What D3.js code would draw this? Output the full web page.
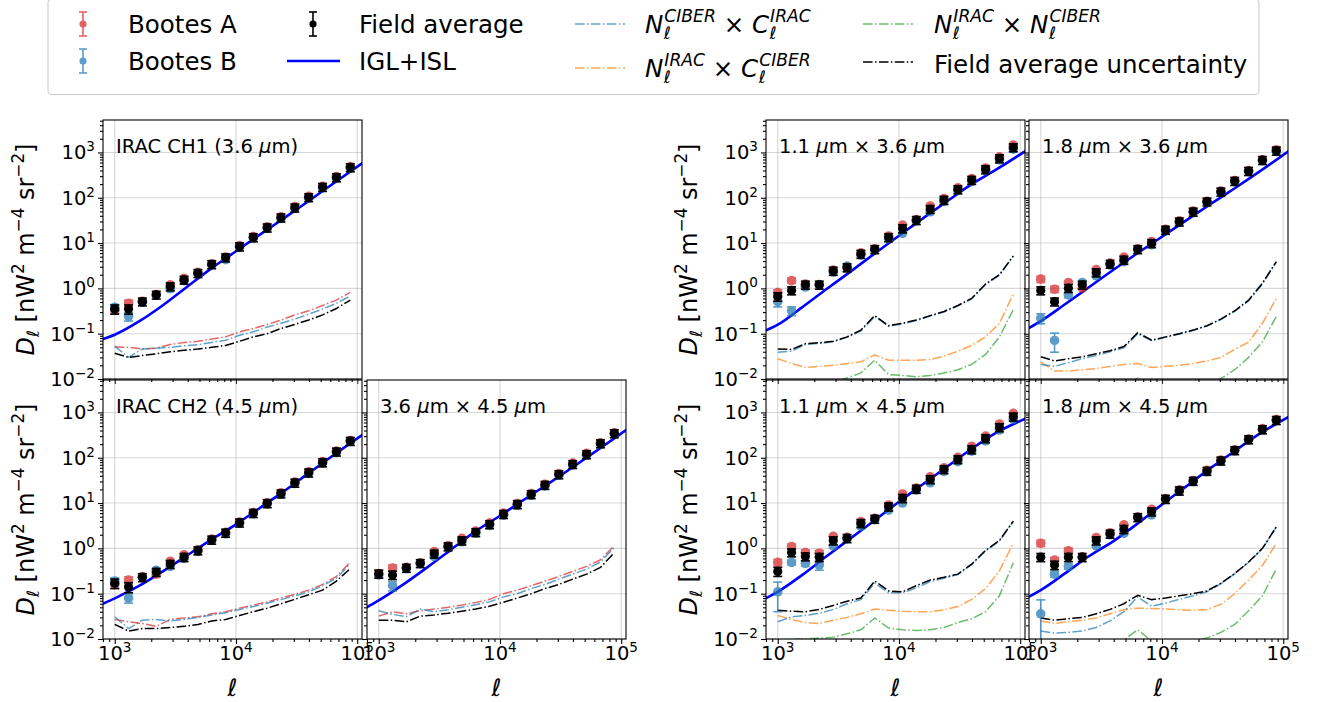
<!DOCTYPE html>
<html>
<head>
<meta charset="utf-8">
<script src="https://cdnjs.cloudflare.com/ajax/libs/d3/7.8.5/d3.min.js"></script>
<style>
    body { margin: 0; background: #ffffff; }
    svg { font-family: "DejaVu Sans", sans-serif; }
</style>
</head>
<body>
<div class="board"></div>
<script>
    // multipole bins (same for every panel)
    const ell = [1000, 1300, 1690, 2200, 2870, 3730, 4850, 6310, 8210, 10700, 13900, 18100, 23500, 30600, 39800, 51800, 67400, 87700]
    // grid on which the IGL+ISL model curves are read
    const modelEll = [794, 1000, 1585, 2512, 3981, 6310, 10000, 15850, 25120, 39810, 63100, 112200]

    // IRAC CH1 (3.6 um)
    const ch1A = [0.33, 0.47, 0.52, 0.73, 1.20, 1.67, 2.25, 3.5, 4.9, 8.8, 14.0, 23, 38, 64, 108, 180, 295, 490]
    const ch1B = [0.38, 0.24, 0.50, 0.71, 0.98, 1.48, 2.08, 3.3, 4.3, 8.0, 12.8, 21, 35, 58, 98, 165, 270, 450]
    const ch1Avg = [0.35, 0.35, 0.51, 0.72, 1.10, 1.54, 2.16, 3.4, 4.8, 8.4, 13.4, 21.9, 36.4, 60.4, 102, 172, 281, 468]
    const ch1ErrA = [[0, 0.05], [1, 0.08]]
    const ch1ErrB = [[0, 0.06], [1, 0.05]]
    const ch1ErrAvg = [0.08, 0.08, 0.1, 0.14, 0.22, 0.3, 0.43, 0.68, 0.96, 1.7, 2.7, 4.4, 7.3, 12, 20, 34, 56, 94]
    const ch1Model = [0.076, 0.095, 0.186, 0.43, 1.10, 2.8, 6.6, 15.5, 36, 85, 204, 600]
    const ch1NA = [0.051, 0.050, 0.046, 0.048, 0.058, 0.064, 0.068, 0.076, 0.085, 0.11, 0.13, 0.16, 0.20, 0.26, 0.32, 0.42, 0.55, 0.82]
    const ch1NB = [0.053, 0.030, 0.046, 0.048, 0.050, 0.054, 0.057, 0.064, 0.072, 0.092, 0.11, 0.14, 0.17, 0.21, 0.27, 0.35, 0.47, 0.68]
    const ch1NAvg = [0.037, 0.030, 0.033, 0.036, 0.040, 0.043, 0.046, 0.050, 0.055, 0.068, 0.085, 0.10, 0.13, 0.16, 0.20, 0.26, 0.36, 0.55]

    // IRAC CH2 (4.5 um)
    const ch2A = [0.16, 0.20, 0.24, 0.27, 0.52, 0.72, 0.93, 1.6, 2.25, 3.8, 6.2, 10.2, 16.8, 29, 49, 82, 140, 240]
    const ch2B = [0.19, 0.08, 0.23, 0.33, 0.40, 0.60, 0.86, 1.5, 2.1, 3.6, 5.8, 9.6, 15.6, 27, 45, 76, 131, 228]
    const ch2Avg = [0.17, 0.14, 0.23, 0.30, 0.45, 0.64, 0.90, 1.55, 2.2, 3.7, 6.0, 9.9, 16.2, 28, 47, 79, 136, 234]
    const ch2ErrA = [[0, 0.03], [1, 0.035]]
    const ch2ErrB = [[0, 0.035], [1, 0.018]]
    const ch2ErrAvg = [0.04, 0.035, 0.046, 0.06, 0.09, 0.13, 0.18, 0.31, 0.44, 0.74, 1.2, 2.0, 3.2, 5.6, 9.4, 16, 27, 47]
    const ch2Model = [0.060, 0.079, 0.148, 0.316, 0.71, 1.58, 3.39, 7.9, 18.6, 45.7, 112, 331]
    const ch2NA = [0.027, 0.024, 0.022, 0.019, 0.027, 0.029, 0.031, 0.036, 0.040, 0.048, 0.056, 0.066, 0.080, 0.097, 0.12, 0.16, 0.24, 0.50]
    const ch2NB = [0.031, 0.017, 0.026, 0.027, 0.025, 0.027, 0.030, 0.034, 0.038, 0.045, 0.052, 0.062, 0.074, 0.090, 0.11, 0.15, 0.22, 0.46]
    const ch2NAvg = [0.021, 0.015, 0.017, 0.017, 0.018, 0.019, 0.021, 0.025, 0.027, 0.033, 0.040, 0.048, 0.060, 0.075, 0.095, 0.12, 0.19, 0.36]

    // 3.6 um x 4.5 um
    const x12A = [0.28, 0.37, 0.38, 0.48, 0.85, 1.15, 1.67, 2.4, 3.6, 6.0, 9.8, 16.3, 26, 45, 76, 125, 215, 355]
    const x12B = [0.26, 0.15, 0.36, 0.46, 0.66, 1.05, 1.40, 2.15, 3.2, 5.4, 9.0, 15, 24, 41, 69, 114, 198, 335]
    const x12Avg = [0.275, 0.26, 0.37, 0.47, 0.76, 1.1, 1.49, 2.27, 3.4, 5.7, 9.4, 15.6, 25, 43, 72, 119, 207, 345]
    const x12ErrA = [[0, 0.05], [1, 0.06]]
    const x12ErrB = [[1, 0.035]]
    const x12ErrAvg = [0.055, 0.055, 0.074, 0.094, 0.15, 0.22, 0.3, 0.45, 0.68, 1.14, 1.9, 3.1, 5, 8.6, 14, 24, 41, 69]
    const x12Model = [0.050, 0.071, 0.158, 0.38, 0.95, 2.4, 5.25, 12.0, 26.9, 61.7, 145, 427]
    const x12NA = [0.032, 0.040, 0.036, 0.042, 0.046, 0.050, 0.056, 0.064, 0.075, 0.10, 0.12, 0.15, 0.19, 0.24, 0.31, 0.40, 0.56, 1.15]
    const x12NB = [0.042, 0.035, 0.031, 0.046, 0.040, 0.044, 0.050, 0.057, 0.066, 0.085, 0.10, 0.13, 0.16, 0.21, 0.27, 0.35, 0.50, 1.05]
    const x12NAvg = [0.026, 0.026, 0.024, 0.032, 0.034, 0.037, 0.041, 0.046, 0.053, 0.065, 0.080, 0.10, 0.13, 0.16, 0.21, 0.27, 0.38, 0.80]

    // 1.1 um x 3.6 um
    const c1i1A = [0.81, 1.49, 1.25, 1.22, 2.55, 2.8, 6.1, 7.5, 14.2, 25, 33, 66, 96, 165, 265, 455, 800, 1450]
    const c1i1B = [0.51, 0.32, 1.07, 1.18, 2.3, 3.1, 5.4, 7.1, 12.6, 16.4, 31, 49, 83, 143, 228, 395, 690, 1180]
    const c1i1Avg = [0.66, 0.90, 1.2, 1.2, 2.43, 2.9, 5.75, 7.3, 13.4, 21, 32, 56, 89, 153, 246, 423, 738, 1290]
    const c1i1ErrA = [[0, 0.12], [1, 0.2]]
    const c1i1ErrB = [[0, 0.12], [1, 0.07]]
    const c1i1ErrAvg = [0.14, 0.18, 0.24, 0.24, 0.49, 0.58, 1.15, 1.46, 2.7, 4.2, 6.4, 11, 18, 31, 49, 85, 148, 258]
    const c1i1Model = [0.117, 0.158, 0.38, 0.955, 2.34, 5.9, 14.5, 35.5, 85, 200, 417, 1100]
    const c1i1NB = [0.039, 0.041, 0.058, 0.061, 0.066, 0.083, 0.115, 0.24, 0.145, 0.165, 0.195, 0.245, 0.30, 0.41, 0.59, 1.22, 1.95, 5.1]
    const c1i1NO = [0.028, 0.022, 0.018, 0.019, 0.020, 0.022, 0.024, 0.034, 0.026, 0.026, 0.026, 0.027, 0.032, 0.041, 0.055, 0.085, 0.17, 0.75]
    const c1i1NG = [0.004, 0.005, 0.006, 0.007, 0.0085, 0.0105, 0.0136, 0.026, 0.0125, 0.012, 0.0112, 0.012, 0.0136, 0.016, 0.021, 0.035, 0.085, 0.34]
    const c1i1NAvg = [0.046, 0.045, 0.060, 0.063, 0.068, 0.085, 0.12, 0.25, 0.15, 0.17, 0.20, 0.25, 0.31, 0.42, 0.60, 1.25, 2.0, 5.2]

    // 1.8 um x 3.6 um
    const c2i1A = [1.6, 0.96, 1.35, 1.01, 2.6, 3.6, 4.9, 7.5, 10.8, 20.2, 31, 51, 84, 140, 240, 398, 690, 1150]
    const c2i1B = [0.22, 0.071, 0.72, 1.35, 1.9, 3.3, 3.9, 7.1, 9.2, 18.8, 28.5, 47, 79, 132, 228, 378, 660, 1050]
    const c2i1Avg = [0.90, 0.51, 1.01, 1.2, 2.24, 3.47, 4.25, 7.3, 9.9, 19.5, 29.7, 49, 82, 136, 234, 388, 676, 1090]
    const c2i1ErrA = [[0, 0.25], [1, 0.15]]
    const c2i1ErrB = [[0, 0.055], [1, 0.032], [2, 0.1]]
    const c2i1ErrAvg = [0.18, 0.1, 0.2, 0.24, 0.45, 0.69, 0.85, 1.46, 2.0, 3.9, 5.9, 9.8, 16, 27, 47, 78, 135, 218]
    const c2i1Model = [0.132, 0.19, 0.447, 1.07, 2.57, 6.03, 13.8, 31.6, 72.4, 162, 372, 1096]
    const c2i1NB = [0.021, 0.019, 0.023, 0.028, 0.033, 0.040, 0.049, 0.10, 0.07, 0.083, 0.098, 0.118, 0.148, 0.205, 0.31, 0.53, 1.25, 3.8]
    const c2i1NO = [0.024, 0.015, 0.015, 0.016, 0.017, 0.019, 0.021, 0.022, 0.018, 0.019, 0.020, 0.022, 0.025, 0.030, 0.045, 0.065, 0.17, 0.60]
    const c2i1NG = [0.002, 0.002, 0.002, 0.003, 0.004, 0.005, 0.007, 0.0105, 0.006, 0.005, 0.0045, 0.005, 0.007, 0.0102, 0.016, 0.03, 0.066, 0.24]
    const c2i1NAvg = [0.031, 0.025, 0.028, 0.031, 0.036, 0.042, 0.052, 0.105, 0.072, 0.085, 0.10, 0.12, 0.15, 0.21, 0.32, 0.55, 1.3, 3.9]

    // 1.1 um x 4.5 um
    const c1i2A = [0.49, 1.1, 0.81, 0.78, 1.85, 1.75, 3.9, 4.6, 9.0, 15.9, 21.5, 38, 60, 102, 180, 300, 557, 952]
    const c1i2B = [0.11, 0.49, 0.47, 0.43, 1.13, 1.62, 3.1, 4.3, 7.0, 10, 19.5, 28, 50, 82, 140, 235, 410, 700]
    const c1i2Avg = [0.31, 0.81, 0.66, 0.64, 1.49, 1.68, 3.59, 4.47, 8.35, 12.8, 20.5, 33.4, 55.6, 92, 153, 267, 468, 804]
    const c1i2ErrA = [[0, 0.08], [1, 0.15], [2, 0.12], [3, 0.12]]
    const c1i2ErrB = [[0, 0.07], [1, 0.06], [2, 0.07], [3, 0.1]]
    const c1i2ErrAvg = [0.07, 0.16, 0.13, 0.13, 0.3, 0.34, 0.72, 0.89, 1.7, 2.6, 4.1, 6.7, 11, 18, 31, 53, 94, 160]
    const c1i2Model = [0.079, 0.11, 0.257, 0.66, 1.66, 4.17, 10.7, 26.3, 64.6, 158, 355, 741]
    const c1i2NB = [0.024, 0.031, 0.033, 0.037, 0.045, 0.060, 0.074, 0.17, 0.105, 0.105, 0.135, 0.185, 0.22, 0.265, 0.44, 0.88, 1.45, 3.9]
    const c1i2NO = [0.033, 0.027, 0.023, 0.022, 0.026, 0.030, 0.036, 0.046, 0.043, 0.041, 0.040, 0.040, 0.044, 0.052, 0.075, 0.13, 0.32, 1.3]
    const c1i2NG = [0.0095, 0.0098, 0.010, 0.0105, 0.011, 0.013, 0.016, 0.029, 0.0175, 0.016, 0.0155, 0.016, 0.018, 0.023, 0.028, 0.040, 0.09, 0.48]
    const c1i2NAvg = [0.043, 0.041, 0.040, 0.045, 0.055, 0.068, 0.08, 0.19, 0.115, 0.11, 0.15, 0.20, 0.23, 0.27, 0.45, 0.90, 1.5, 4.0]

    // 1.8 um x 4.5 um
    const c2i2A = [1.3, 0.55, 0.88, 0.65, 1.74, 2.2, 3.3, 4.9, 7.3, 12.6, 19.5, 31.5, 53, 89, 150, 260, 440, 700]
    const c2i2B = [0.036, 0.27, 0.40, 0.63, 1.13, 2.0, 2.15, 4.8, 5.5, 12.0, 18.2, 30, 49, 84, 142, 248, 410, 660]
    const c2i2Avg = [0.64, 0.43, 0.64, 0.64, 1.49, 2.1, 2.65, 4.86, 6.5, 12.3, 18.8, 30.7, 51, 86, 146, 254, 423, 676]
    const c2i2ErrA = [[0, 0.2], [1, 0.08], [2, 0.14]]
    const c2i2ErrB = [[0, 0.037], [1, 0.04], [2, 0.05]]
    const c2i2ErrAvg = [0.13, 0.09, 0.13, 0.13, 0.3, 0.42, 0.53, 0.97, 1.3, 2.5, 3.8, 6.1, 10, 17, 29, 51, 85, 135]
    const c2i2Model = [0.085, 0.12, 0.28, 0.68, 1.45, 3.55, 9.3, 23.4, 58.9, 141, 331, 813]
    const c2i2NB = [0.015, 0.0135, 0.014, 0.015, 0.018, 0.025, 0.040, 0.085, 0.053, 0.062, 0.075, 0.09, 0.11, 0.165, 0.275, 0.49, 0.98, 2.95]
    const c2i2NO = [0.025, 0.022, 0.024, 0.026, 0.029, 0.036, 0.044, 0.048, 0.047, 0.046, 0.044, 0.043, 0.045, 0.058, 0.10, 0.20, 0.42, 1.3]
    const c2i2NG = [0.002, 0.002, 0.003, 0.004, 0.005, 0.007, 0.0095, 0.016, 0.009, 0.0085, 0.0085, 0.009, 0.0105, 0.014, 0.021, 0.042, 0.09, 0.35]
    const c2i2NAvg = [0.029, 0.026, 0.028, 0.030, 0.036, 0.045, 0.060, 0.092, 0.074, 0.08, 0.09, 0.10, 0.115, 0.17, 0.28, 0.50, 1.0, 3.0]

    // tick labels
    const xMajor = [1e3, 1e4, 1e5]
    const xExp = ["3", "4", "5"]
    const yMajor = [1e-2, 1e-1, 1e0, 1e1, 1e2, 1e3]
    const yExp = ["−2", "−1", "0", "1", "2", "3"]

    RED = "#d62728"
    BLUE = "#1f77b4"
    ORANGE = "#ff7f0e"
    GREEN = "#2ca02c"
    MODEL = "#0000ff"
    DASHDOT = "9.6,2.4,1.5,2.4"

    PW = 259
    PH = 259
    LEGEND_FONT = 24.5

    var svg = d3.select(".board")
        .append("svg")
        .attr("width", 1318)
        .attr("height", 702)

    let x = d3.scaleLog().domain([800, 109500]).range([0, PW])
    let y = d3.scaleLog().domain([0.01, 5200]).range([PH, 0])

    let xMinor = x.ticks().filter(d => !xMajor.includes(d))
    let yMinor = y.ticks().filter(d => !yMajor.some(m => Math.abs(m - d) / m < 1e-9))

    function addSpans(text, parts) {
        parts.forEach(p => {
            let ts = text.append("tspan").text(p.t)
            if (p.it) ts.attr("font-style", "italic")
            if (p.s) ts.attr("font-size", p.s)
            if (p.dy) ts.attr("dy", p.dy)
        })
    }

    // text with stacked super/subscripts, measured piece by piece
    function mathLabel(g, x0, y0, items, size) {
        let cx = x0
        items.forEach(it => {
            let t = g.append("text").attr("x", cx).attr("y", y0).attr("font-size", size)
                .style("white-space", "pre").text(it.t)
            if (it.it) t.attr("font-style", "italic")
            let w = t.node().getComputedTextLength()
            let extra = 0
            if (it.sup) {
                let s = g.append("text").attr("x", cx + w + 1).attr("y", y0 - size * 0.43)
                    .attr("font-size", size * 0.7).attr("font-style", "italic").text(it.sup)
                extra = Math.max(extra, s.node().getComputedTextLength() + 1)
            }
            if (it.sub) {
                let s = g.append("text").attr("x", cx + w + 0.5).attr("y", y0 + size * 0.25)
                    .attr("font-size", size * 0.7).attr("font-style", "italic").text(it.sub)
                extra = Math.max(extra, s.node().getComputedTextLength() + 0.5)
            }
            cx += w + extra
        })
    }

    function styleAxis(a) {
        a.select(".domain").remove()
        a.selectAll(".tick line").attr("stroke", "black").attr("stroke-width", 1.1)
    }

    function drawPanel(p) {
        let g = svg.append("g").attr("transform", "translate(" + p.x0 + "," + p.y0 + ")")

        g.append("clipPath").attr("id", "clip-" + p.id)
            .append("rect").attr("width", PW).attr("height", PH)

        // grid
        let grid = g.append("g")
        grid.selectAll(".gx").data(xMajor).enter().append("line")
            .attr("x1", d => x(d)).attr("x2", d => x(d)).attr("y1", 0).attr("y2", PH)
        grid.selectAll(".gy").data(yMajor).enter().append("line")
            .attr("y1", d => y(d)).attr("y2", d => y(d)).attr("x1", 0).attr("x2", PW)
        grid.selectAll("line").attr("stroke", "#b0b0b0").attr("stroke-opacity", 0.5).attr("stroke-width", 1.1)

        let body = g.append("g").attr("clip-path", "url(#clip-" + p.id + ")")

        // noise / uncertainty curves
        let line = d3.line().x((d, i) => x(ell[i])).y(d => y(d))
        p.noise.forEach(n => {
            body.append("path")
                .attr("d", line(n[0]))
                .attr("fill", "none")
                .attr("stroke", n[1])
                .attr("stroke-opacity", n[1] == "black" ? 1 : 0.7)
                .attr("stroke-width", 1.5)
                .attr("stroke-dasharray", DASHDOT)
        })

        // IGL+ISL model
        let modelLine = d3.line().x((d, i) => x(modelEll[i])).y(d => y(d)).curve(d3.curveMonotoneX)
        body.append("path")
            .attr("d", modelLine(p.model))
            .attr("fill", "none")
            .attr("stroke", MODEL)
            .attr("stroke-width", 2.6)

        // data points with error bars; errs is a list of [index, error]
        function pointSet(vals, errs, color, opacity, r) {
            let s = body.append("g").attr("fill", color).attr("stroke", color).attr("opacity", opacity)
            errs.forEach(e => {
                let v = vals[e[0]]
                let cx = x(ell[e[0]])
                let lo = y(Math.max(v - e[1], 1e-4)), hi = y(v + e[1])
                s.append("line").attr("x1", cx).attr("x2", cx).attr("y1", lo).attr("y2", hi).attr("stroke-width", 1.6)
                s.append("line").attr("x1", cx - 4.5).attr("x2", cx + 4.5).attr("y1", lo).attr("y2", lo).attr("stroke-width", 1.6)
                s.append("line").attr("x1", cx - 4.5).attr("x2", cx + 4.5).attr("y1", hi).attr("y2", hi).attr("stroke-width", 1.6)
            })
            s.selectAll("circle").data(vals).enter().append("circle")
                .attr("cx", (d, i) => x(ell[i]))
                .attr("cy", d => y(d))
                .attr("r", r)
                .attr("stroke", "none")
        }
        pointSet(p.A, p.eA, RED, 0.72, 4.8)
        pointSet(p.B, p.eB, BLUE, 0.72, 4.8)
        pointSet(p.avg, p.eAvg.map((e, i) => [i, e]), "black", 1, 4.6)

        // frame
        g.append("rect").attr("width", PW).attr("height", PH)
            .attr("fill", "none").attr("stroke", "black").attr("stroke-width", 1.1)

        // axes
        g.append("g").attr("transform", "translate(0," + PH + ")")
            .call(d3.axisBottom(x).tickValues(xMinor).tickSize(3).tickFormat("")).call(styleAxis)
        g.append("g").attr("transform", "translate(0," + PH + ")")
            .call(d3.axisBottom(x).tickValues(xMajor).tickSize(5).tickFormat("")).call(styleAxis)
        g.append("g")
            .call(d3.axisLeft(y).tickValues(yMinor).tickSize(3).tickFormat("")).call(styleAxis)
        g.append("g")
            .call(d3.axisLeft(y).tickValues(yMajor).tickSize(5).tickFormat("")).call(styleAxis)

        if (p.yTicks) {
            yMajor.forEach((v, i) => {
                let t = g.append("text").attr("x", -8).attr("y", y(v) + 7)
                    .attr("text-anchor", "end").attr("font-size", 19.5)
                addSpans(t, [{ t: "10" }, { t: yExp[i], s: 13.6, dy: -8 }])
            })
            let yl = svg.append("text")
                .attr("transform", "translate(" + (p.x0 - 69) + "," + (p.y0 + PH / 2) + ") rotate(-90)")
                .attr("text-anchor", "middle").attr("font-size", 24)
            addSpans(yl, [
                { t: "D", it: 1 }, { t: "ℓ", it: 1, s: 16.8, dy: 5 },
                { t: " [nW", dy: -5 }, { t: "2", s: 16.8, dy: -10 },
                { t: " m", dy: 10 }, { t: "−4", s: 16.8, dy: -10 },
                { t: " sr", dy: 10 }, { t: "−2", s: 16.8, dy: -10 },
                { t: "]", dy: 10 }])
        }
        if (p.xTicks) {
            xMajor.forEach((v, i) => {
                let t = g.append("text").attr("x", x(v)).attr("y", PH + 21)
                    .attr("text-anchor", "middle").attr("font-size", 19.5)
                addSpans(t, [{ t: "10" }, { t: xExp[i], s: 13.6, dy: -8 }])
            })
            svg.append("text").attr("x", p.x0 + PW / 2).attr("y", 696)
                .attr("text-anchor", "middle").attr("font-size", 24).attr("font-style", "italic").text("ℓ")
        }

        // panel title
        let title = g.append("text").attr("x", 13).attr("y", 33).attr("font-size", 19.5).style("white-space", "pre")
        addSpans(title, p.title)
    }

    const irac = (a, b) => [{ t: a }, { t: "μ", it: 1 }, { t: b }]
    const cross = (a, b) => [{ t: a + " " }, { t: "μ", it: 1 }, { t: "m × " + b + " " }, { t: "μ", it: 1 }, { t: "m" }]

    const panels = [
        { id: "ch1", x0: 103, y0: 120, yTicks: true, xTicks: false, title: irac("IRAC CH1 (3.6 ", "m)"),
          A: ch1A, B: ch1B, avg: ch1Avg, eA: ch1ErrA, eB: ch1ErrB, eAvg: ch1ErrAvg, model: ch1Model,
          noise: [[ch1NA, RED], [ch1NB, BLUE], [ch1NAvg, "black"]] },
        { id: "ch2", x0: 103, y0: 380, yTicks: true, xTicks: true, title: irac("IRAC CH2 (4.5 ", "m)"),
          A: ch2A, B: ch2B, avg: ch2Avg, eA: ch2ErrA, eB: ch2ErrB, eAvg: ch2ErrAvg, model: ch2Model,
          noise: [[ch2NA, RED], [ch2NB, BLUE], [ch2NAvg, "black"]] },
        { id: "x12", x0: 367, y0: 380, yTicks: false, xTicks: true, title: cross("3.6", "4.5"),
          A: x12A, B: x12B, avg: x12Avg, eA: x12ErrA, eB: x12ErrB, eAvg: x12ErrAvg, model: x12Model,
          noise: [[x12NA, RED], [x12NB, BLUE], [x12NAvg, "black"]] },
        { id: "c1i1", x0: 766, y0: 120, yTicks: true, xTicks: false, title: cross("1.1", "3.6"),
          A: c1i1A, B: c1i1B, avg: c1i1Avg, eA: c1i1ErrA, eB: c1i1ErrB, eAvg: c1i1ErrAvg, model: c1i1Model,
          noise: [[c1i1NG, GREEN], [c1i1NO, ORANGE], [c1i1NB, BLUE], [c1i1NAvg, "black"]] },
        { id: "c2i1", x0: 1029, y0: 120, yTicks: false, xTicks: false, title: cross("1.8", "3.6"),
          A: c2i1A, B: c2i1B, avg: c2i1Avg, eA: c2i1ErrA, eB: c2i1ErrB, eAvg: c2i1ErrAvg, model: c2i1Model,
          noise: [[c2i1NG, GREEN], [c2i1NO, ORANGE], [c2i1NB, BLUE], [c2i1NAvg, "black"]] },
        { id: "c1i2", x0: 766, y0: 380, yTicks: true, xTicks: true, title: cross("1.1", "4.5"),
          A: c1i2A, B: c1i2B, avg: c1i2Avg, eA: c1i2ErrA, eB: c1i2ErrB, eAvg: c1i2ErrAvg, model: c1i2Model,
          noise: [[c1i2NG, GREEN], [c1i2NO, ORANGE], [c1i2NB, BLUE], [c1i2NAvg, "black"]] },
        { id: "c2i2", x0: 1029, y0: 380, yTicks: false, xTicks: true, title: cross("1.8", "4.5"),
          A: c2i2A, B: c2i2B, avg: c2i2Avg, eA: c2i2ErrA, eB: c2i2ErrB, eAvg: c2i2ErrAvg, model: c2i2Model,
          noise: [[c2i2NG, GREEN], [c2i2NO, ORANGE], [c2i2NB, BLUE], [c2i2NAvg, "black"]] }
    ]

    panels.forEach(drawPanel)

    // ---- legend ----
    let leg = svg.append("g")
    leg.append("rect").attr("x", 48).attr("y", -1).attr("width", 1211).attr("height", 95.5).attr("rx", 4)
        .attr("fill", "white").attr("fill-opacity", 0.8).attr("stroke", "#cccccc").attr("stroke-width", 1.1)

    function legErr(cx, cy, color, opacity) {
        let s = leg.append("g").attr("stroke", color).attr("fill", color).attr("opacity", opacity)
        s.append("line").attr("x1", cx).attr("x2", cx).attr("y1", cy - 12).attr("y2", cy + 12).attr("stroke-width", 1.6)
        s.append("line").attr("x1", cx - 4).attr("x2", cx + 4).attr("y1", cy - 12).attr("y2", cy - 12).attr("stroke-width", 1.6)
        s.append("line").attr("x1", cx - 4).attr("x2", cx + 4).attr("y1", cy + 12).attr("y2", cy + 12).attr("stroke-width", 1.6)
        s.append("circle").attr("cx", cx).attr("cy", cy).attr("r", 3.6).attr("stroke", "none")
    }
    function legLine(x1, x2, ly, color, opacity, dash, w) {
        leg.append("line").attr("x1", x1).attr("x2", x2).attr("y1", ly).attr("y2", ly)
            .attr("stroke", color).attr("stroke-opacity", opacity).attr("stroke-width", w)
            .attr("stroke-dasharray", dash)
    }
    function legText(tx, ty, s) {
        leg.append("text").attr("x", tx).attr("y", ty).attr("font-size", LEGEND_FONT).text(s)
    }

    legErr(83, 24, RED, 0.72)
    legText(128, 33, "Bootes A")
    legErr(83, 61, BLUE, 0.72)
    legText(128, 70, "Bootes B")

    legErr(313, 24, "black", 1)
    legText(359, 33, "Field average")
    legLine(287, 340, 61, MODEL, 1, null, 2.6)
    legText(359, 70, "IGL+ISL")

    legLine(575, 625, 24, BLUE, 0.7, DASHDOT, 1.5)
    mathLabel(leg, 645, 33, [{ t: "N", it: 1, sup: "CIBER", sub: "ℓ" }, { t: " × " }, { t: "C", it: 1, sup: "IRAC", sub: "ℓ" }], LEGEND_FONT)
    legLine(575, 625, 68, ORANGE, 0.7, DASHDOT, 1.5)
    mathLabel(leg, 645, 77, [{ t: "N", it: 1, sup: "IRAC", sub: "ℓ" }, { t: " × " }, { t: "C", it: 1, sup: "CIBER", sub: "ℓ" }], LEGEND_FONT)

    legLine(863, 913, 24, GREEN, 0.7, DASHDOT, 1.5)
    mathLabel(leg, 934, 33, [{ t: "N", it: 1, sup: "IRAC", sub: "ℓ" }, { t: " × " }, { t: "N", it: 1, sup: "CIBER", sub: "ℓ" }], LEGEND_FONT)
    legLine(863, 913, 62, "black", 1, DASHDOT, 1.5)
    legText(934, 73, "Field average uncertainty")
</script>
</body>
</html>
